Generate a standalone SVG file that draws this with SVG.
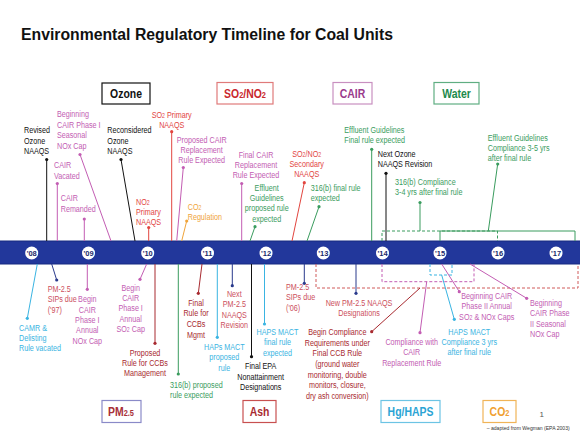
<svg xmlns="http://www.w3.org/2000/svg" width="580" height="434" viewBox="0 0 580 434">
<style>
text{font-family:"Liberation Sans",Arial,sans-serif}
.t{font-size:9px}
.m{text-anchor:middle}
.b{font-weight:bold;font-size:12px;text-anchor:middle}
.k{fill:#111}.p{fill:#c35db3}.r{fill:#e2453f}.g{fill:#3a9c5e}.o{fill:#f0a43a}.c{fill:#3ab4e2}.s{fill:#cc4f5c}.d{fill:#a82a30}.n{fill:#2a3a8c}
.lk{stroke:#111}.lp{stroke:#c35db3}.lr{stroke:#e2453f}.lg{stroke:#3a9c5e}.lo{stroke:#f0a43a}.lc{stroke:#3ab4e2}.ld{stroke:#a82a30}.ln{stroke:#2a3a8c}
#connectors line,#connectors path{fill:none;stroke-width:1}
.dash{stroke-dasharray:3 2}
.box{fill:#fff;stroke-width:1.2}
.yr circle{fill:#fff}
.yr text{font-size:7.5px;font-weight:bold;fill:#1a2a6c;text-anchor:middle}
</style>
<rect width="580" height="434" fill="#fff"/>
<text id="title" x="21" y="40" font-size="16" font-weight="bold" fill="#111" textLength="372" lengthAdjust="spacingAndGlyphs">Environmental Regulatory Timeline for Coal Units</text>

<g id="timeline-bar"><rect x="-1" y="241" width="582" height="23" fill="#22379b" stroke="#172a80"/></g>

<g id="connectors">
<path class="lg" d="M440,241 V231 H575 V241"/>
<path class="lg dash" d="M382,241 V231 H497.5 V241"/>
<path class="lr dash" d="M316,264 V288 H578 V264" style="stroke:#d05a5a"/>
<path class="lp dash" d="M382,264 V281.7 H474 V264"/>
<path class="lc dash" d="M430,264 V275 H452 V264"/>
<line class="lk" x1="46.7" y1="159.5" x2="46.7" y2="241"/>
<line class="lp" x1="80" y1="154.5" x2="111" y2="241"/>
<line class="lp" x1="57.3" y1="183.5" x2="57.3" y2="241"/>
<line class="lp" x1="84.3" y1="219" x2="84.3" y2="241"/>
<line class="lk" x1="121" y1="159.5" x2="135" y2="241"/>
<line class="lr" x1="148.7" y1="227.5" x2="148.7" y2="241"/>
<line class="lr" x1="171.7" y1="131.7" x2="171.7" y2="241"/>
<line class="lp" x1="183.3" y1="167.5" x2="176.7" y2="241"/>
<line class="lo" x1="186.7" y1="221" x2="181.7" y2="241"/>
<line class="lp" x1="241.7" y1="183.5" x2="241.7" y2="241"/>
<line class="lg" x1="255" y1="226.7" x2="250" y2="241"/>
<line class="lr" x1="304.3" y1="182.7" x2="292" y2="241"/>
<line class="lg" x1="319" y1="206.7" x2="307" y2="241"/>
<line class="lg" x1="371.7" y1="149.3" x2="371.7" y2="241"/>
<line class="lk" x1="386" y1="173.3" x2="386" y2="241"/>
<line class="lg" x1="420" y1="202.5" x2="420" y2="231"/>
<line class="lg" x1="497.7" y1="164" x2="488.3" y2="231"/>
<line class="lc" x1="37.3" y1="264" x2="27.3" y2="318.3"/>
<line class="ln" x1="51.7" y1="264" x2="56.7" y2="280"/>
<line class="lp" x1="87.3" y1="264" x2="87.3" y2="289.3"/>
<line class="lp" x1="146.7" y1="264" x2="140" y2="279.3"/>
<line class="ld" x1="155" y1="264" x2="155" y2="343.3"/>
<line class="lg" x1="178.3" y1="264" x2="178.3" y2="374"/>
<line class="ld" x1="202" y1="264" x2="198.3" y2="293.3"/>
<line class="lc" x1="217.3" y1="264" x2="217.3" y2="337.3"/>
<line class="ln" x1="232.3" y1="264" x2="232.3" y2="285.7"/>
<line class="lk" x1="251.5" y1="264" x2="251.5" y2="356.7"/>
<line class="lc" x1="264.5" y1="264" x2="264.5" y2="324"/>
<line class="ln" x1="304.3" y1="264" x2="304.3" y2="283.3"/>
<line class="ln" x1="356" y1="264" x2="356" y2="293.3"/>
<line class="ld" x1="371.7" y1="331.7" x2="420" y2="288"/>
<line class="lp" x1="420" y1="332.7" x2="426.7" y2="281.7"/>
<line class="lc" x1="441.7" y1="275" x2="454.3" y2="319.3"/>
<line class="lp" x1="441.7" y1="264" x2="459.3" y2="291.7"/>
<line class="lp" x1="470" y1="264" x2="526.7" y2="298.3"/>
</g>

<g id="dots">
<circle class="k" cx="46.7" cy="159.5" r="1.6"/>
<circle class="p" cx="80" cy="154.5" r="1.6"/>
<circle class="p" cx="57.3" cy="183.5" r="1.6"/>
<circle class="p" cx="84.3" cy="219" r="1.6"/>
<circle class="k" cx="121" cy="159.5" r="1.6"/>
<circle class="r" cx="148.7" cy="227.5" r="1.6"/>
<circle class="r" cx="171.7" cy="131.7" r="1.6"/>
<circle class="p" cx="183.3" cy="167.5" r="1.6"/>
<circle class="o" cx="186.7" cy="221" r="1.6"/>
<circle class="p" cx="241.7" cy="183.5" r="1.6"/>
<circle class="g" cx="255" cy="226.7" r="1.6"/>
<circle class="r" cx="304.3" cy="182.7" r="1.6"/>
<circle class="g" cx="319" cy="206.7" r="1.6"/>
<circle class="g" cx="371.7" cy="149.3" r="1.6"/>
<circle class="k" cx="386" cy="173.3" r="1.6"/>
<circle class="g" cx="420" cy="202.5" r="1.6"/>
<circle class="g" cx="497.7" cy="164" r="1.6"/>
<circle class="c" cx="27.3" cy="318.3" r="1.6"/>
<circle class="n" cx="56.7" cy="280" r="1.6"/>
<circle class="p" cx="87.3" cy="289.3" r="1.6"/>
<circle class="p" cx="140" cy="279.3" r="1.6"/>
<circle class="d" cx="155" cy="343.3" r="1.6"/>
<circle class="g" cx="178.3" cy="374" r="1.6"/>
<circle class="d" cx="198.3" cy="293.3" r="1.6"/>
<circle class="c" cx="217.3" cy="337.3" r="1.6"/>
<circle class="n" cx="232.3" cy="285.7" r="1.6"/>
<circle class="k" cx="251.5" cy="356.7" r="1.6"/>
<circle class="c" cx="264.5" cy="324" r="1.6"/>
<circle class="n" cx="304.3" cy="283.3" r="1.6"/>
<circle class="n" cx="356" cy="293.3" r="1.6"/>
<circle class="d" cx="371.7" cy="331.7" r="1.6"/>
<circle class="p" cx="420" cy="332.7" r="1.6"/>
<circle class="c" cx="454.3" cy="319.3" r="1.6"/>
<circle class="p" cx="459.3" cy="291.7" r="1.6"/>
<circle class="p" cx="526.7" cy="298.3" r="1.6"/>
</g>

<g id="years" class="yr">
<g id="y08"><circle cx="31.7" cy="253" r="6.5"/><text x="31.7" y="255.7">'08</text></g>
<g id="y09"><circle cx="88.5" cy="253" r="6.5"/><text x="88.5" y="255.7">'09</text></g>
<g id="y10"><circle cx="147.7" cy="253" r="6.5"/><text x="147.7" y="255.7">'10</text></g>
<g id="y11"><circle cx="207.5" cy="253" r="6.5"/><text x="207.5" y="255.7">'11</text></g>
<g id="y12"><circle cx="266" cy="253" r="6.5"/><text x="266" y="255.7">'12</text></g>
<g id="y13"><circle cx="323.3" cy="253" r="6.5"/><text x="323.3" y="255.7">'13</text></g>
<g id="y14"><circle cx="382.5" cy="253" r="6.5"/><text x="382.5" y="255.7">'14</text></g>
<g id="y15"><circle cx="440" cy="253" r="6.5"/><text x="440" y="255.7">'15</text></g>
<g id="y16"><circle cx="498" cy="253" r="6.5"/><text x="498" y="255.7">'16</text></g>
<g id="y17"><circle cx="556" cy="253" r="6.5"/><text x="556" y="255.7">'17</text></g>
</g>

<g id="cat-ozone"><rect class="box" x="102" y="83" width="48" height="21" stroke="#111"/><text class="b k" transform="translate(126,98) scale(0.87,1)">Ozone</text></g>
<g id="cat-so2no2"><rect class="box" x="217" y="82.5" width="56" height="21.5" stroke="#e07a7a"/><text class="b r" transform="translate(245,98) scale(0.87,1)" style="fill:#c9282e">SO<tspan font-size="8.5">2</tspan>/NO<tspan font-size="8.5">2</tspan></text></g>
<g id="cat-cair"><rect class="box" x="333" y="82.5" width="39" height="21.5" stroke="#c890c0"/><text class="b" transform="translate(352.5,98) scale(0.87,1)" style="fill:#9a3a8c">CAIR</text></g>
<g id="cat-water"><rect class="box" x="434" y="82.5" width="45" height="21.5" stroke="#5fae82"/><text class="b" transform="translate(456.5,98) scale(0.87,1)" style="fill:#1d8a4c">Water</text></g>
<g id="cat-pm25"><rect class="box" x="102" y="400.5" width="39" height="22" stroke="#8a8ac8"/><text class="b" transform="translate(121,416) scale(0.87,1)" style="fill:#a83038">PM<tspan font-size="8.5">2.5</tspan></text></g>
<g id="cat-ash"><rect class="box" x="243" y="400.5" width="33" height="22" stroke="#c85050"/><text class="b" transform="translate(259.5,416) scale(0.87,1)" style="fill:#a82a30">Ash</text></g>
<g id="cat-hghaps"><rect class="box" x="381" y="400.5" width="59" height="22" stroke="#6cc4e4"/><text class="b" transform="translate(410.5,416) scale(0.87,1)" style="fill:#2ba4d4">Hg/HAPS</text></g>
<g id="cat-co2"><rect class="box" x="483" y="400.5" width="33" height="22" stroke="#f0b458"/><text class="b" transform="translate(499.5,416) scale(0.87,1)" style="fill:#f0a030">CO<tspan font-size="8.5">2</tspan></text></g>

<g id="n-revised-ozone"><text class="t k" transform="translate(24,133.2) scale(0.8,1)"><tspan x="0">Revised</tspan><tspan x="0" dy="10.4">Ozone</tspan><tspan x="0" dy="10.4">NAAQS</tspan></text></g>
<g id="n-cair1-seasonal"><text class="t p" transform="translate(57,117.2) scale(0.8,1)"><tspan x="0">Beginning</tspan><tspan x="0" dy="10.5">CAIR Phase I</tspan><tspan x="0" dy="10.5">Seasonal</tspan><tspan x="0" dy="10.5">NOx Cap</tspan></text></g>
<g id="n-cair-vacated"><text class="t p" transform="translate(54,168.2) scale(0.8,1)"><tspan x="0">CAIR</tspan><tspan x="0" dy="10.4">Vacated</tspan></text></g>
<g id="n-cair-remanded"><text class="t p" transform="translate(60.7,201.2) scale(0.8,1)"><tspan x="0">CAIR</tspan><tspan x="0" dy="10.4">Remanded</tspan></text></g>
<g id="n-reconsidered"><text class="t k" transform="translate(107.3,133.2) scale(0.8,1)"><tspan x="0">Reconsidered</tspan><tspan x="0" dy="10.4">Ozone</tspan><tspan x="0" dy="10.4">NAAQS</tspan></text></g>
<g id="n-no2-primary"><text class="t r" transform="translate(136,204.5) scale(0.8,1)"><tspan x="0">NO<tspan font-size="6.5">2</tspan></tspan><tspan x="0" dy="10.2">Primary</tspan><tspan x="0" dy="10.2">NAAQS</tspan></text></g>
<g id="n-so2-primary"><text class="t r m" transform="translate(171.7,118) scale(0.8,1)"><tspan x="0">SO<tspan font-size="6.5">2</tspan> Primary</tspan><tspan x="0" dy="10.2">NAAQS</tspan></text></g>
<g id="n-proposed-cair"><text class="t p m" transform="translate(201.7,142.5) scale(0.8,1)"><tspan x="0">Proposed CAIR</tspan><tspan x="0" dy="10.4">Replacement</tspan><tspan x="0" dy="10.4">Rule Expected</tspan></text></g>
<g id="n-co2-reg"><text class="t o" transform="translate(187.7,209.9) scale(0.8,1)"><tspan x="0">CO<tspan font-size="6.5">2</tspan></tspan><tspan x="0" dy="10.2">Regulation</tspan></text></g>
<g id="n-final-cair"><text class="t p m" transform="translate(256,157.5) scale(0.8,1)"><tspan x="0">Final CAIR</tspan><tspan x="0" dy="10.5">Replacement</tspan><tspan x="0" dy="10.5">Rule Expected</tspan></text></g>
<g id="n-effluent-proposed"><text class="t g m" transform="translate(266.7,190.5) scale(0.8,1)"><tspan x="0">Effluent</tspan><tspan x="0" dy="10.4">Guidelines</tspan><tspan x="0" dy="10.4">proposed rule</tspan><tspan x="0" dy="10.4">expected</tspan></text></g>
<g id="n-so2no2-secondary"><text class="t r m" transform="translate(306.7,156.5) scale(0.8,1)"><tspan x="0">SO<tspan font-size="6.5">2</tspan>/NO<tspan font-size="6.5">2</tspan></tspan><tspan x="0" dy="10.4">Secondary</tspan><tspan x="0" dy="10.4">NAAQS</tspan></text></g>
<g id="n-316b-final"><text class="t g" transform="translate(310.7,190.5) scale(0.8,1)"><tspan x="0">316(b) final rule</tspan><tspan x="0" dy="10.4">expected</tspan></text></g>
<g id="n-effluent-final"><text class="t g" transform="translate(344.3,132.5) scale(0.8,1)"><tspan x="0">Effluent Guidelines</tspan><tspan x="0" dy="10.6">Final rule expected</tspan></text></g>
<g id="n-next-ozone"><text class="t k" transform="translate(377.7,156.5) scale(0.8,1)"><tspan x="0">Next Ozone</tspan><tspan x="0" dy="10.6">NAAQS Revision</tspan></text></g>
<g id="n-316b-compliance"><text class="t g" transform="translate(395,184.9) scale(0.8,1)"><tspan x="0">316(b) Compliance</tspan><tspan x="0" dy="10.6">3-4 yrs after final rule</tspan></text></g>
<g id="n-effluent-compliance"><text class="t g" transform="translate(487.7,140.5) scale(0.8,1)"><tspan x="0">Effluent Guidelines</tspan><tspan x="0" dy="10.5">Compliance 3-5 yrs</tspan><tspan x="0" dy="10.5">after final rule</tspan></text></g>

<g id="n-camr"><text class="t c" transform="translate(19,330.5) scale(0.8,1)"><tspan x="0">CAMR &amp;</tspan><tspan x="0" dy="10.2">Delisting</tspan><tspan x="0" dy="10.2">Rule vacated</tspan></text></g>
<g id="n-pm-sips-97"><text class="t s" transform="translate(47.7,292.2) scale(0.8,1)"><tspan x="0">PM-2.5</tspan><tspan x="0" dy="10.2">SIPs due</tspan><tspan x="0" dy="10.2">('97)</tspan></text></g>
<g id="n-cair1-nox"><text class="t p m" transform="translate(87.3,302.2) scale(0.8,1)"><tspan x="0">Begin</tspan><tspan x="0" dy="10.4">CAIR</tspan><tspan x="0" dy="10.4">Phase I</tspan><tspan x="0" dy="10.4">Annual</tspan><tspan x="0" dy="10.4">NOx Cap</tspan></text></g>
<g id="n-cair1-so2"><text class="t p m" transform="translate(130.7,290.5) scale(0.8,1)"><tspan x="0">Begin</tspan><tspan x="0" dy="10.5">CAIR</tspan><tspan x="0" dy="10.5">Phase I</tspan><tspan x="0" dy="10.5">Annual</tspan><tspan x="0" dy="10.5">SO<tspan font-size="6.5">2</tspan> Cap</tspan></text></g>
<g id="n-proposed-ccb"><text class="t d m" transform="translate(145,355.5) scale(0.8,1)"><tspan x="0">Proposed</tspan><tspan x="0" dy="10.5">Rule for CCBs</tspan><tspan x="0" dy="10.5">Management</tspan></text></g>
<g id="n-316b-proposed"><text class="t g" transform="translate(170,388.2) scale(0.8,1)"><tspan x="0">316(b) proposed</tspan><tspan x="0" dy="10.2">rule expected</tspan></text></g>
<g id="n-final-ccb"><text class="t d m" transform="translate(196,305.9) scale(0.8,1)"><tspan x="0">Final</tspan><tspan x="0" dy="10.6">Rule for</tspan><tspan x="0" dy="10.6">CCBs</tspan><tspan x="0" dy="10.6">Mgmt</tspan></text></g>
<g id="n-haps-proposed"><text class="t c m" transform="translate(224.3,349.9) scale(0.8,1)"><tspan x="0">HAPs MACT</tspan><tspan x="0" dy="10.4">proposed</tspan><tspan x="0" dy="10.4">rule</tspan></text></g>
<g id="n-next-pm"><text class="t s m" transform="translate(234.3,296.5) scale(0.8,1)"><tspan x="0">Next</tspan><tspan x="0" dy="10.6">PM-2.5</tspan><tspan x="0" dy="10.6">NAAQS</tspan><tspan x="0" dy="10.6">Revision</tspan></text></g>
<g id="n-final-epa"><text class="t k m" transform="translate(260.7,369.2) scale(0.8,1)"><tspan x="0">Final EPA</tspan><tspan x="0" dy="10.5">Nonattainment</tspan><tspan x="0" dy="10.5">Designations</tspan></text></g>
<g id="n-haps-final"><text class="t c m" transform="translate(277.5,334.9) scale(0.8,1)"><tspan x="0">HAPS MACT</tspan><tspan x="0" dy="10.5">final rule</tspan><tspan x="0" dy="10.5">expected</tspan></text></g>
<g id="n-pm-sips-06"><text class="t s" transform="translate(286,289.9) scale(0.8,1)"><tspan x="0">PM-2.5</tspan><tspan x="0" dy="10.4">SIPs due</tspan><tspan x="0" dy="10.4">('06)</tspan></text></g>
<g id="n-new-pm"><text class="t s m" transform="translate(359,305.9) scale(0.8,1)"><tspan x="0">New PM-2.5 NAAQS</tspan><tspan x="0" dy="10.6">Designations</tspan></text></g>
<g id="n-ccb-compliance"><text class="t d m" transform="translate(337.3,334.9) scale(0.8,1)"><tspan x="0">Begin Compliance</tspan><tspan x="0" dy="10.67">Requirements under</tspan><tspan x="0" dy="10.67">Final CCB Rule</tspan><tspan x="0" dy="10.67">(ground water</tspan><tspan x="0" dy="10.67">monitoring, double</tspan><tspan x="0" dy="10.67">monitors, closure,</tspan><tspan x="0" dy="10.67">dry ash conversion)</tspan></text></g>
<g id="n-cair-compliance"><text class="t p m" transform="translate(411.7,344.9) scale(0.8,1)"><tspan x="0">Compliance with</tspan><tspan x="0" dy="10.5">CAIR</tspan><tspan x="0" dy="10.5">Replacement Rule</tspan></text></g>
<g id="n-haps-compliance"><text class="t c m" transform="translate(469.3,334.9) scale(0.8,1)"><tspan x="0">HAPS MACT</tspan><tspan x="0" dy="10.3">Compliance 3 yrs</tspan><tspan x="0" dy="10.3">after final rule</tspan></text></g>
<g id="n-cair2-annual"><text class="t p m" transform="translate(486.7,298.9) scale(0.8,1)"><tspan x="0">Beginning CAIR</tspan><tspan x="0" dy="10.5">Phase II Annual</tspan><tspan x="0" dy="10.5">SO<tspan font-size="6.5">2</tspan> &amp; NOx Caps</tspan></text></g>
<g id="n-cair2-seasonal"><text class="t p" transform="translate(530,305.9) scale(0.8,1)"><tspan x="0">Beginning</tspan><tspan x="0" dy="10.5">CAIR Phase</tspan><tspan x="0" dy="10.5">II Seasonal</tspan><tspan x="0" dy="10.5">NOx Cap</tspan></text></g>

<text id="page-num" x="541.7" y="417" font-size="8" fill="#555" text-anchor="middle">1</text>
<text id="credit" x="486.7" y="430" font-size="5" fill="#333" textLength="83" lengthAdjust="spacingAndGlyphs">– adapted from  Wegman (EPA 2003)</text>
</svg>
